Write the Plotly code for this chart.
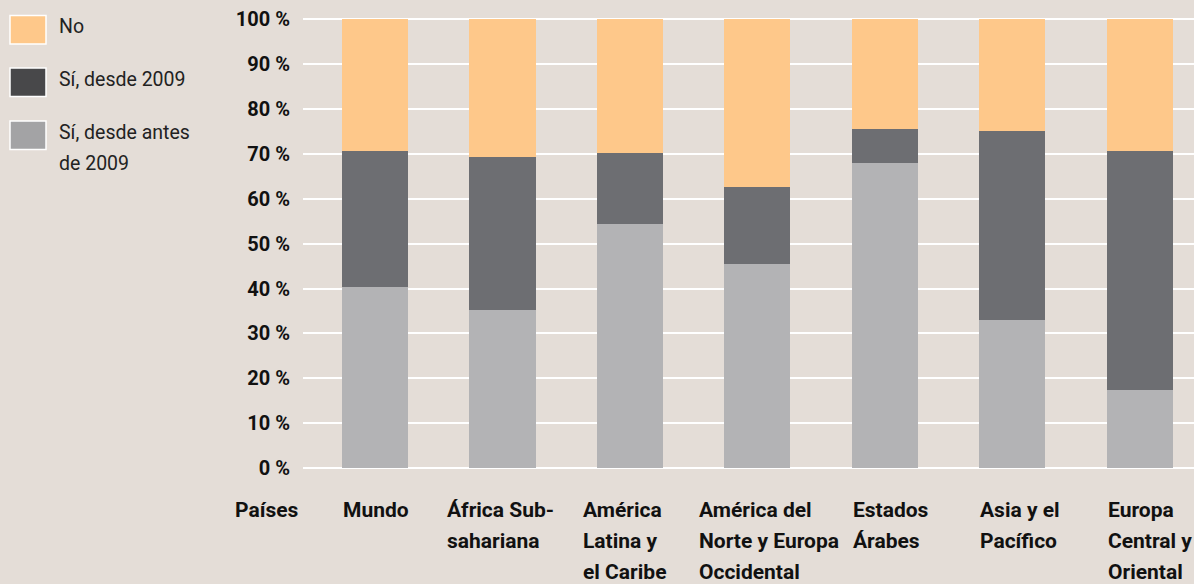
import plotly.graph_objects as go

# ---------------- data ----------------
categories = ["Mundo", "África Subsahariana", "América Latina y el Caribe",
              "América del Norte y Europa Occidental", "Estados Árabes",
              "Asia y el Pacífico", "Europa Central y Oriental"]
label_lines = [["Mundo"], ["África Sub-", "sahariana"], ["América", "Latina y", "el Caribe"],
               ["América del", "Norte y Europa", "Occidental"], ["Estados", "Árabes"],
               ["Asia y el", "Pacífico"], ["Europa", "Central y", "Oriental"]]
si_antes_2009 = [40.4, 35.2, 54.5, 45.5, 67.9, 33.0, 17.3]
si_desde_2009 = [30.3, 34.1, 15.7, 17.1, 7.7, 42.1, 53.3]
no_values = [29.3, 30.7, 29.8, 37.4, 24.4, 24.9, 29.4]
legend_lines = [["No"], ["Sí, desde 2009"], ["Sí, desde antes", "de 2009"]]
y_ticks = [0, 10, 20, 30, 40, 50, 60, 70, 80, 90, 100]
y_tick_labels = [f"{v} %" for v in y_ticks]
axis_title = "Países"

# ---------------- style ----------------
BG = "#e4ddd7"
C_LIGHT, C_DARK, C_ORANGE = "#b3b3b5", "#6d6e72", "#fec88a"
L_LIGHT, L_DARK, L_ORANGE = "#a3a3a5", "#48484a", "#fec88a"
FONT = "Roboto, sans-serif"
TXT = "#111111"

W, H = 1194, 584
PL, PT, PW, PH = 303, 15, 891, 460


def xp(px):
    return (px - PL) / PW


def yp(py):
    return (PT + PH - py) / PH


idx = list(range(len(categories)))
fig = go.Figure()
bar_w = 0.518
fig.add_bar(x=idx, y=si_antes_2009, marker_color=C_LIGHT, width=bar_w,
            name="Sí, desde antes de 2009", marker_line_width=0,
            customdata=categories, hovertemplate="%{customdata}: %{y} %<extra></extra>")
fig.add_bar(x=idx, y=si_desde_2009, marker_color=C_DARK, width=bar_w,
            name="Sí, desde 2009", marker_line_width=0,
            customdata=categories, hovertemplate="%{customdata}: %{y} %<extra></extra>")
fig.add_bar(x=idx, y=no_values, marker_color=C_ORANGE, width=bar_w,
            name="No", marker_line_width=0,
            customdata=categories, hovertemplate="%{customdata}: %{y} %<extra></extra>")

annotations = []
shapes = []

# category labels (left-aligned blocks under the bars)
label_shift = [-33, -56, -48, -59.5, -32.5, -33, -32.5]
line_tops = [496.5, 528, 559]
for i, lines in enumerate(label_lines):
    for j, t in enumerate(lines):
        annotations.append(dict(x=i, xref="x", y=yp(line_tops[j]), yref="paper",
                                text=f"<b>{t}</b>", showarrow=False, borderpad=0,
                                xanchor="left", yanchor="top", xshift=label_shift[i],
                                font=dict(family=FONT, size=21, color=TXT)))
annotations.append(dict(x=xp(234), xref="paper", y=yp(line_tops[0]), yref="paper",
                        text=f"<b>{axis_title}</b>", showarrow=False, borderpad=0,
                        xanchor="left", yanchor="top",
                        font=dict(family=FONT, size=21, color=TXT)))

# custom legend
leg_colors = [L_ORANGE, L_DARK, L_LIGHT]
sw_tops = [15.5, 68, 121]
txt_tops = [[13.5], [66.5], [118.5, 149.5]]
for k in range(3):
    shapes.append(dict(type="rect", xref="paper", yref="paper",
                       x0=xp(10), x1=xp(46), y0=yp(sw_tops[k]), y1=yp(sw_tops[k] + 28.5),
                       fillcolor=leg_colors[k], line=dict(color="white", width=1.5)))
    for j, t in enumerate(legend_lines[k]):
        annotations.append(dict(x=xp(57), xref="paper", y=yp(txt_tops[k][j]), yref="paper",
                                text=t, showarrow=False, align="left",
                                xanchor="left", yanchor="top",
                                font=dict(family=FONT, size=19.5, color="#222222")))

fig.update_layout(
    width=W, height=H, barmode="stack", showlegend=False,
    paper_bgcolor=BG, plot_bgcolor=BG,
    margin=dict(l=PL, r=W - PL - PW, t=PT, b=H - PT - PH, autoexpand=False),
    bargap=0, annotations=annotations, shapes=shapes,
    xaxis=dict(type="linear", range=[-0.5647, 6.424], showgrid=False, zeroline=False,
               showticklabels=False, ticks="", showline=False, fixedrange=True),
    yaxis=dict(range=[-1.561, 101.0], tickvals=y_ticks,
               ticktext=[f"<b>{t}</b>" for t in y_tick_labels],
               showgrid=True, gridcolor="white", gridwidth=2, zeroline=False,
               ticks="", ticklabelstandoff=12, showline=False,
               tickfont=dict(family=FONT, size=20, color=TXT), fixedrange=True),
)

fig.write_html("out.html", config={"displayModeBar": False},
               post_script="document.body.style.margin='0';document.body.style.overflow='hidden';")
